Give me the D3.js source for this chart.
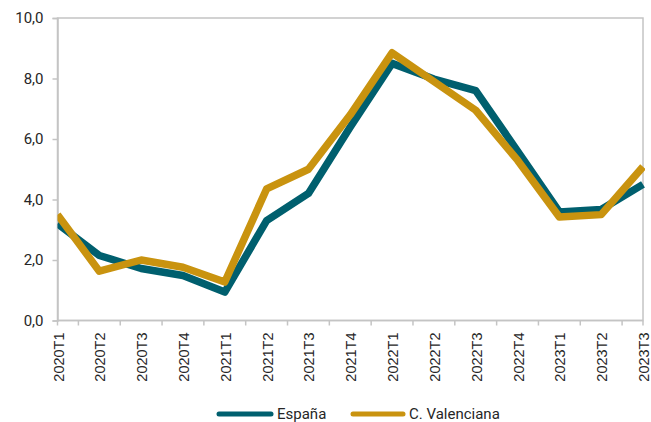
<!DOCTYPE html>
<html><head><meta charset="utf-8">
<script src="https://cdn.jsdelivr.net/npm/d3@7"></script>
<style>body{margin:0;background:#fff}svg{display:block}text{font-family:"Liberation Sans",Arial,sans-serif;fill:#262626}</style>
</head><body><svg id="c" width="651" height="422"></svg>
<script>
const categories = ["2020T1","2020T2","2020T3","2020T4","2021T1","2021T2","2021T3","2021T4","2022T1","2022T2","2022T3","2022T4","2023T1","2023T2","2023T3"];
const espana = [3.2,2.15,1.72,1.49,0.94,3.3,4.2,6.4,8.5,7.98,7.6,5.6,3.59,3.67,4.5];
const valenciana = [3.5,1.63,2.0,1.76,1.27,4.35,5.0,6.8,8.85,7.9,6.95,5.3,3.42,3.5,5.08];
const yTicks = [0,2,4,6,8,10];
const seriesNames = ["España","C. Valenciana"];
const colors = ["#005f6e","#c9930f"];

const svg = d3.select("#c");
const L=57.5, R=643, T=18, B=320.5;
const x = d3.scalePoint().domain(categories).range([L,R]).padding(0);
const y = d3.scaleLinear().domain([0,10]).range([B,T]);
const fmt = v => d3.format(".1f")(v).replace(".",",");

// plot frame
svg.append("rect").attr("x",L).attr("y",T).attr("width",R-L).attr("height",B-T)
  .attr("fill","none").attr("stroke","#c4c4c4").attr("stroke-width",1.5);

// y axis
const ya = svg.append("g").attr("transform",`translate(${L},0)`)
  .call(d3.axisLeft(y).tickValues(yTicks).tickFormat(fmt).tickSize(5).tickPadding(9));
ya.select(".domain").attr("stroke","#c4c4c4").attr("stroke-width",1.5);
ya.selectAll(".tick line").attr("stroke","#c4c4c4").attr("stroke-width",1.5);
ya.selectAll("text").attr("font-size",15).attr("fill","#262626").style("font-family","Roboto,sans-serif");

// x axis ticks at boundaries
const step = x.step();
const tickPos = [L].concat(categories.slice(0,-1).map(c=>x(c)+step/2)).concat([R]);
svg.append("g").selectAll("line").data(tickPos).join("line")
  .attr("x1",d=>d).attr("x2",d=>d).attr("y1",B).attr("y2",B+5)
  .attr("stroke","#c4c4c4").attr("stroke-width",1.5);
svg.append("line").attr("x1",L).attr("x2",R).attr("y1",B).attr("y2",B).attr("stroke","#c4c4c4").attr("stroke-width",1.5);

// x labels
svg.append("g").selectAll("text").data(categories).join("text")
  .attr("transform",d=>`translate(${x(d)+6},${B+12}) rotate(-90)`)
  .attr("text-anchor","end").attr("font-size",14.5).text(d=>d);

// lines
const line = d3.line().x((d,i)=>x(categories[i])).y(d=>y(d)).curve(d3.curveLinear);
svg.append("clipPath").attr("id","cp").append("rect").attr("x",L).attr("y",0).attr("width",R-L+2).attr("height",B);
[espana,valenciana].forEach((s,i)=>{
  svg.append("path").datum(s).attr("d",line).attr("fill","none")
    .attr("stroke",colors[i]).attr("stroke-width",7.5).attr("stroke-linejoin","round")
    .attr("clip-path","url(#cp)");
});

// legend
const leg = [{x1:217,x2:273,tx:277},{x1:351,x2:405,tx:409}];
leg.forEach((l,i)=>{
  svg.append("line").attr("x1",l.x1+2).attr("x2",l.x2-2).attr("y1",414).attr("y2",414)
    .attr("stroke",colors[i]).attr("stroke-width",5).attr("stroke-linecap","round");
  svg.append("text").attr("x",l.tx).attr("y",418.5).attr("font-size",15)
    .style("font-family","Roboto,sans-serif").text(seriesNames[i]);
});
</script></body></html>
